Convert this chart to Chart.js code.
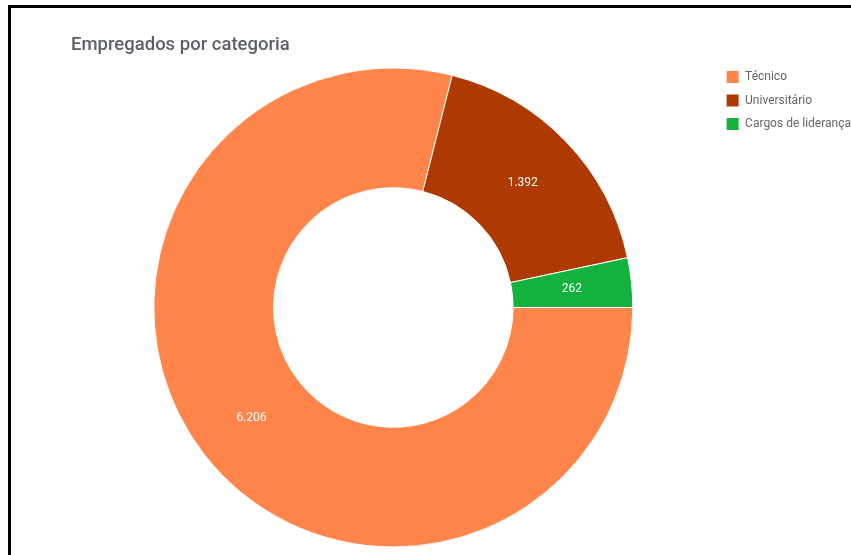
<!DOCTYPE html>
<html>
<head>
<meta charset="utf-8">
<script src="https://cdn.jsdelivr.net/npm/chart.js@4.4.1/dist/chart.umd.min.js"></script>
<style>
  html, body { margin: 0; padding: 0; background: #ffffff; overflow: hidden; width: 851px; height: 555px; }
  #frame { position: absolute; left: 8px; top: 5px; width: 900px; height: 600px; border-left: 3px solid #000; border-top: 3px solid #000; box-sizing: border-box; pointer-events: none; z-index: 2; }
  #wrap { position: absolute; left: 0; top: 0; width: 861px; height: 555px; }
</style>
</head>
<body>
<div id="wrap"><canvas id="c"></canvas></div>
<div id="frame"></div>
<script>
const categories = ['Técnico', 'Universitário', 'Cargos de liderança'];
const employees = [6206, 1392, 262];
const sliceColors = ['#ff854a', '#ae3a02', '#13b23c'];
const chartTitle = 'Empregados por categoria';

function fmtBR(v) {
  return String(v).replace(/\B(?=(\d{3})+(?!\d))/g, '.');
}

const sliceLabels = {
  id: 'sliceLabels',
  afterDatasetsDraw(chart) {
    const ctx = chart.ctx;
    const meta = chart.getDatasetMeta(0);
    ctx.save();
    ctx.fillStyle = '#ffffff';
    ctx.font = '12px Roboto, "Open Sans", sans-serif';
    ctx.textAlign = 'center';
    ctx.textBaseline = 'middle';
    meta.data.forEach((arc, i) => {
      const p = arc.getCenterPoint();
      ctx.fillText(fmtBR(chart.data.datasets[0].data[i]), p.x, p.y);
    });
    ctx.restore();
  }
};

new Chart(document.getElementById('c'), {
  type: 'doughnut',
  data: {
    labels: categories,
    datasets: [{
      data: employees,
      backgroundColor: sliceColors,
      borderColor: '#ffffff',
      borderWidth: 1
    }]
  },
  options: {
    responsive: true,
    maintainAspectRatio: false,
    animation: false,
    rotation: 90,
    cutout: '50%',
    radius: 239.5,
    layout: { padding: { left: 71, right: 0, top: 20, bottom: 0 } },
    plugins: {
      title: {
        display: true,
        text: chartTitle,
        align: 'start',
        color: '#5c6066',
        font: { family: 'Roboto', size: 18.5, weight: '500' },
        padding: { top: 14, bottom: 3.8 }
      },
      legend: {
        display: true,
        position: 'right',
        align: 'start',
        fullSize: false,
        labels: {
          boxWidth: 13,
          boxHeight: 13,
          padding: 10.5,
          color: '#666666',
          font: { family: 'Roboto', size: 12 }
        }
      },
      tooltip: { enabled: false }
    }
  },
  plugins: [sliceLabels]
});
</script>
</body>
</html>
